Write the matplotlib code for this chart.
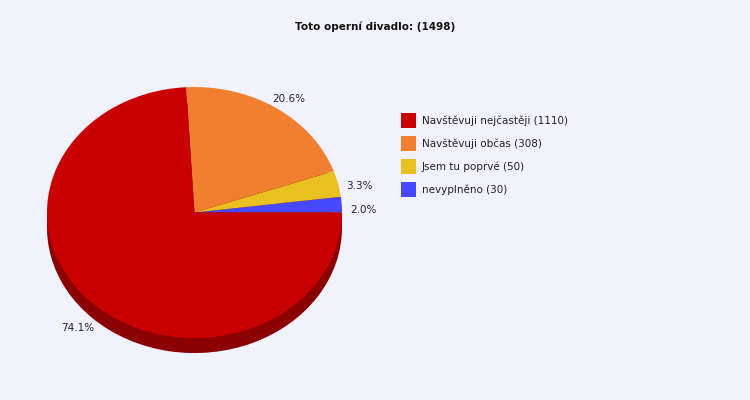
import matplotlib
matplotlib.use('Agg')
import matplotlib.pyplot as plt
import numpy as np
from matplotlib.patches import Rectangle, Patch

# data, going counterclockwise from 3 o'clock
labels = ['nevyplněno', 'Jsem tu poprvé', 'Navštěvuji občas', 'Navštěvuji nejčastěji']
counts = [30, 50, 308, 1110]
colors = ['#4848FF', '#E8C020', '#F08030', '#C80000']
total = sum(counts)
title = 'Toto operní divadlo: (%d)' % total

bg = '#F2F2FF'
fs = 7.5
depth = 0.12

fig = plt.figure(figsize=(7.5, 4), dpi=100)
fig.patch.set_facecolor(bg)

# pie axes: x range -1..1 -> 295px, y range -1..1 -> 251px
ax = fig.add_axes([47/750, (400-338)/400, 295/750, 251/400])
ax.set_facecolor('none')

# side (depth) of the pie
ax.pie(counts, colors=['#8B0000'] * 4, startangle=0, counterclock=True,
       center=(0, -depth), radius=1, wedgeprops={'linewidth': 0})
ax.add_patch(Rectangle((-1, -depth), 2, depth, facecolor='#8B0000', edgecolor='none'))
wedges, _ = ax.pie(counts, colors=colors, startangle=0, counterclock=True,
                   radius=1, wedgeprops={'linewidth': 0})

for w, c in zip(wedges, counts):
    mid = np.deg2rad((w.theta1 + w.theta2) / 2)
    x = 1.15 * np.cos(mid)
    y = 1.15 * np.sin(mid) - 0.055
    if y < 0:
        y -= 0.03
    ax.text(x, y, '%.1f%%' % (100.0 * c / total), ha='center', va='center',
            fontsize=fs, color='#222222', clip_on=False)

ax.set_aspect('auto')
ax.set_xlim(-1, 1)
ax.set_ylim(-1, 1)
for a in ax.get_children():
    try:
        a.set_clip_on(False)
    except Exception:
        pass
ax.axis('off')

fig.text(375.5/750, 1 - 27/400, title, ha='center', va='center',
         fontsize=fs, fontweight='bold', color='#111111')

handles = [Patch(facecolor=colors[i], edgecolor='none') for i in range(3, -1, -1)]
names = ['%s (%d)' % (labels[i], counts[i]) for i in range(3, -1, -1)]
fig.legend(handles, names, loc='upper left', bbox_to_anchor=(401/750, 1 - 113/400),
           frameon=False, fontsize=fs, handlelength=1.44, handleheight=1.84,
           handletextpad=0.58, labelspacing=0.77, borderpad=0, borderaxespad=0,
           labelcolor='#222222')

fig.savefig('out.png', dpi=100, facecolor=bg)
